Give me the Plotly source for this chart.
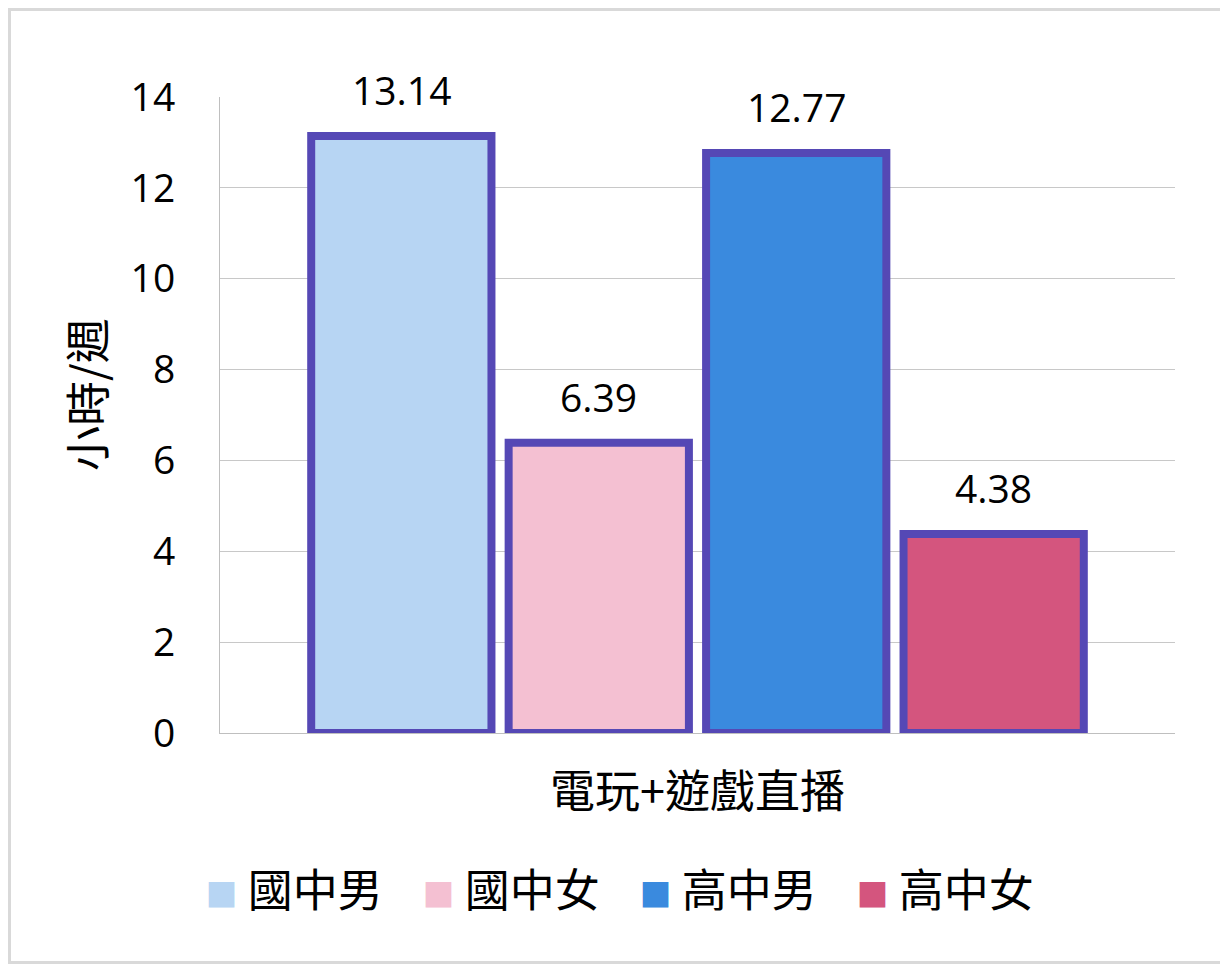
import plotly.graph_objects as go

# data
category = ['電玩+遊戲直播']
groups = ['國中男', '國中女', '高中男', '高中女']
hours = [13.14, 6.39, 12.77, 4.38]
colors = ['#B7D5F3', '#F4C0D2', '#3A8ADE', '#D4557E']
y_ticks = [0, 2, 4, 6, 8, 10, 12, 14]

num_font = 'Open Sans, Liberation Sans, sans-serif'
cjk_font = 'Noto Sans CJK TC, Noto Sans CJK SC, sans-serif'

# page body adds 8px around the figure, so shrink to keep positions
W, H = 1220, 956
ml, mr, mt, mb = 212, 53, 89, 231
pw, ph = W - ml - mr, H - mt - mb

bargap = 0.173
fig = go.Figure()

for g, v, c in zip(groups, hours, colors):
    fig.add_trace(go.Bar(x=category, y=[v], name=g, showlegend=False,
                         marker=dict(color=c, line=dict(color='#5548B5', width=8))))
    # legend entry: big square glyph instead of the small default swatch
    fig.add_trace(go.Scatter(x=[None], y=[None], mode='markers',
                             name=f"<span style='font-size:32px;color:{c}'>■</span> {g}",
                             marker=dict(symbol='square', size=1, color='rgba(0,0,0,0)')))

# value labels above each bar
slot = (1 - bargap) / len(groups)
for i, v in enumerate(hours):
    fig.add_annotation(x=-(1 - bargap) / 2 + slot * (i + 0.5), y=v, text=f'{v:.2f}',
                       showarrow=False, yanchor='bottom', yshift=18,
                       font=dict(family=num_font, size=39, color='black'))

fig.add_annotation(xref='paper', yref='paper', x=-135 / pw, y=(733 - 395) / 636,
                   xanchor='center', yanchor='middle', text='小時/週',
                   textangle=-90, showarrow=False,
                   font=dict(family=cjk_font, size=45, color='black'))

# outer frame of the picture
fig.add_shape(type='rect', xref='paper', yref='paper',
              x0=-(ml - 1.5) / pw, x1=1 + (mr - 1.5) / pw,
              y0=-(mb - 1.5) / ph, y1=1 + (mt - 1.5) / ph,
              line=dict(color='#D9D9D9', width=3))

fig.update_layout(
    width=W, height=H,
    margin=dict(l=ml, r=mr, t=mt, b=mb),
    paper_bgcolor='white', plot_bgcolor='white',
    barmode='group', bargap=bargap, bargroupgap=0.087,
    showlegend=True,
    legend=dict(orientation='h', x=-0.057, y=-0.247, xanchor='left', yanchor='middle',
                entrywidth=172, entrywidthmode='pixels',
                font=dict(family=cjk_font, size=45, color='black')),
    xaxis=dict(showline=True, linecolor='#BFBFBF', linewidth=1, ticks='',
               tickfont=dict(family=cjk_font, size=45, color='black'),
               ticklabelstandoff=20),
    yaxis=dict(range=[0, 14], tickvals=y_ticks, showgrid=True, gridcolor='#C8C8C8',
               gridwidth=1, showline=True, linecolor='#BFBFBF', linewidth=1,
               zeroline=False, ticks='', ticklabelstandoff=36,
               tickfont=dict(family=num_font, size=39, color='black')),
)

fig.write_html('out.html')
